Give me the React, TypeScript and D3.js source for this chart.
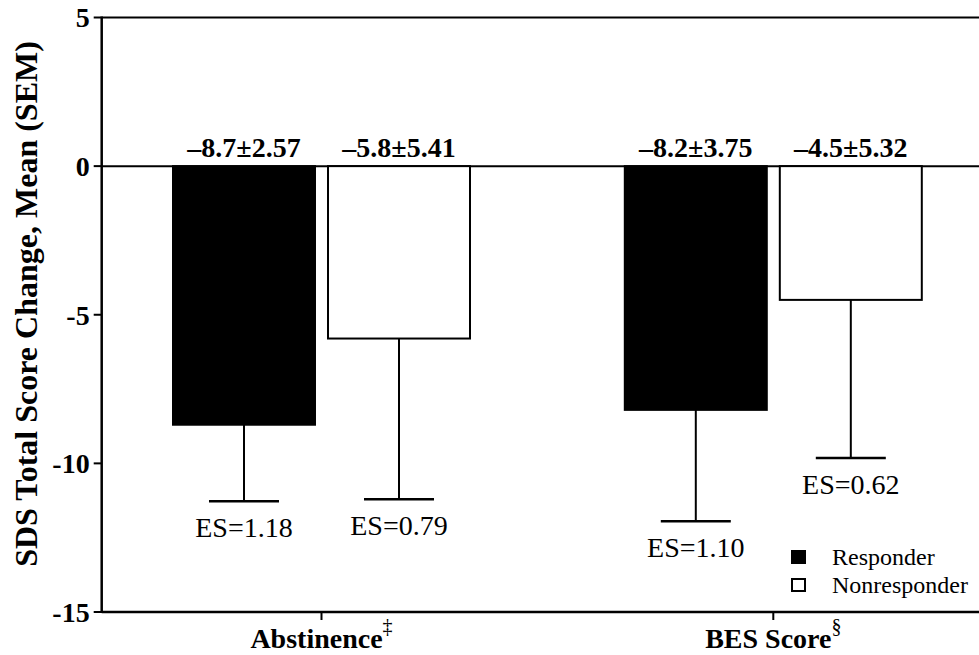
import React from 'react';
import * as d3 from 'd3';

const categories = ['Abstinence', 'BES Score'];
const categoryMarks = ['‡', '§'];
const series = ['Responder', 'Nonresponder'];
const responderMeans = [-8.7, -8.2];
const responderSems = [2.57, 3.75];
const nonresponderMeans = [-5.8, -4.5];
const nonresponderSems = [5.41, 5.32];
const responderES = [1.18, 1.1];
const nonresponderES = [0.79, 0.62];
const yTicks = [5, 0, -5, -10, -15];

const width = 979;
const height = 655;
const font = '"Liberation Serif", "Times New Roman", serif';

const App = () => {
  const axisX = 101.7;
  const y = d3.scaleLinear().domain([5, -15]).range([17.5, 612]);
  const x = d3.scalePoint<string>().domain(categories).range([321.5, 773.3]);
  const inner = d3.scaleBand<string>().domain(series).range([-148.5, 148.5]).paddingInner(0.084);

  const rows = categories.flatMap((c, i) => [
    { cat: c, s: series[0], mean: responderMeans[i], sem: responderSems[i], es: responderES[i] },
    { cat: c, s: series[1], mean: nonresponderMeans[i], sem: nonresponderSems[i], es: nonresponderES[i] },
  ]);

  return (
    <div style={{ position: 'absolute', left: 0, top: 0 }}>
      <svg width={width} height={height} style={{ display: 'block', background: '#fff' }} fontFamily={font}>
        {/* frame lines */}
        <line x1={axisX} x2={width} y1={y(5)} y2={y(5)} stroke="#000" strokeWidth={2} />
        <line x1={axisX} x2={width} y1={y(0)} y2={y(0)} stroke="#000" strokeWidth={2} />
        <line x1={axisX} x2={width} y1={y(-15)} y2={y(-15)} stroke="#000" strokeWidth={2.5} />
        <line x1={axisX} x2={axisX} y1={y(5) - 1} y2={y(-15) + 1} stroke="#000" strokeWidth={2.5} />

        {yTicks.map(t => (
          <g key={t}>
            <line x1={axisX - 8} x2={axisX} y1={y(t)} y2={y(t)} stroke="#000" strokeWidth={2} />
            <text x={axisX - 12} y={y(t)} dy="0.35em" textAnchor="end" fontWeight="bold" fontSize={28}>
              {t}
            </text>
          </g>
        ))}

        <text
          transform={`translate(37,304) rotate(-90)`}
          textAnchor="middle"
          fontWeight="bold"
          fontSize={32}
        >
          SDS Total Score Change, Mean (SEM)
        </text>

        {categories.map((c, i) => (
          <g key={c}>
            <line x1={x(c)!} x2={x(c)!} y1={y(-15)} y2={y(-15) + 8} stroke="#000" strokeWidth={2} />
            <text x={x(c)!} y={648} textAnchor="middle" fontWeight="bold" fontSize={28}>
              {c}
              <tspan fontWeight="normal" fontSize={20} dy={-15}>{categoryMarks[i]}</tspan>
            </text>
          </g>
        ))}

        {rows.map((d, i) => {
          const left = x(d.cat)! + inner(d.s)!;
          const bw = inner.bandwidth();
          const cx = left + bw / 2;
          const filled = d.s === 'Responder';
          const capY = y(d.mean - d.sem);
          return (
            <g key={i}>
              <line x1={cx} x2={cx} y1={y(d.mean)} y2={capY} stroke="#000" strokeWidth={2} />
              <line x1={cx - 35} x2={cx + 35} y1={capY} y2={capY} stroke="#000" strokeWidth={2.5} />
              <rect
                x={left}
                y={y(0)}
                width={bw}
                height={y(d.mean) - y(0)}
                fill={filled ? '#000' : '#fff'}
                stroke="#000"
                strokeWidth={2}
              />
              <text x={cx} y={y(0) - 9} textAnchor="middle" fontWeight="bold" fontSize={28}>
                {`–${Math.abs(d.mean).toFixed(1)}±${d.sem.toFixed(2)}`}
              </text>
              <text x={cx} y={capY + 36} textAnchor="middle" fontSize={28}>
                {`ES=${d.es.toFixed(2)}`}
              </text>
            </g>
          );
        })}

        {series.map((s, i) => (
          <g key={s} transform={`translate(791,${550 + i * 28})`}>
            <rect x={1} y={1} width={13} height={12} fill={i === 0 ? '#000' : '#fff'} stroke="#000" strokeWidth={2} />
            <text x={41} y={15} fontSize={24}>{s}</text>
          </g>
        ))}
      </svg>
    </div>
  );
};

export default App;
